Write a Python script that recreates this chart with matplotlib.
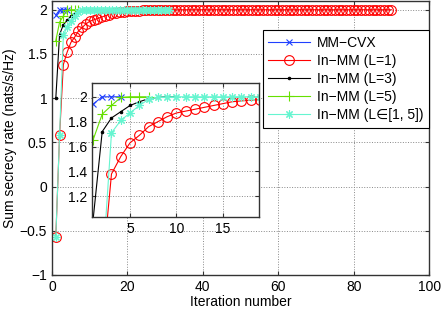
import matplotlib.pyplot as plt
import numpy as np

plt.rcParams['font.family'] = ['Liberation Sans', 'DejaVu Sans']
plt.rcParams['font.size'] = 10

# values, one per iteration starting at 1
mm_cvx = [1.94, 2.0, 2.0, 2.0]
inmm_l1 = [-0.57, 0.58, 1.38, 1.52, 1.63, 1.69, 1.76, 1.80, 1.84, 1.87,
           1.885, 1.90, 1.915, 1.93, 1.945, 1.96, 1.967, 1.972, 1.978, 1.982,
           1.985, 1.988, 1.99, 1.992, 1.994, 1.995, 1.996, 1.997, 1.998, 1.998,
           1.999, 1.999, 1.999, 2.0, 2.0, 2.0, 2.0, 2.0, 2.0, 2.0,
           2.0, 2.0, 2.0, 2.0, 2.0, 2.0, 2.0, 2.0, 2.0, 2.0,
           2.0, 2.0, 2.0, 2.0, 2.0, 2.0, 2.0, 2.0, 2.0, 2.0,
           2.0, 2.0, 2.0, 2.0, 2.0, 2.0, 2.0, 2.0, 2.0, 2.0,
           2.0, 2.0, 2.0, 2.0, 2.0, 2.0, 2.0, 2.0, 2.0, 2.0,
           2.0, 2.0, 2.0, 2.0, 2.0, 2.0, 2.0, 2.0, 2.0, 2.0]
inmm_l3 = [1.0, 1.72, 1.83, 1.88, 1.93, 1.96, 1.985, 1.995, 2.0, 2.0]
inmm_l5 = [1.65, 1.86, 1.93, 1.995, 2.0, 2.0, 2.0]
inmm_lvar = [-0.57, 0.58, 1.71, 1.81, 1.87, 1.93, 1.98, 1.995, 2.0, 2.0,
             2.0, 2.0, 2.0, 2.0, 2.0, 2.0, 2.0, 2.0, 2.0, 2.0,
             2.0, 2.0, 2.0, 2.0, 2.0, 2.0, 2.0, 2.0, 2.0, 2.0, 2.0]

labels = ["MM−CVX", "In−MM (L=1)", "In−MM (L=3)", "In−MM (L=5)", "In−MM (L∈[1, 5])"]
colors = ["#2040ff", "#ff0000", "#000000", "#66e000", "#66f5d0"]
markers = ["x", "o", ".", "+", (8, 2, 0)]
msizes = [5, 7, 3.5, 7, 6]
mfaces = ["none", "none", "#000000", "none", "none"]

series = [mm_cvx, inmm_l1, inmm_l3, inmm_l5, inmm_lvar]


def draw(ax):
    for ys, lab, c, m, ms, mf in zip(series, labels, colors, markers, msizes, mfaces):
        xs = np.arange(1, len(ys) + 1)
        ax.plot(xs, ys, color=c, marker=m, markersize=ms, markerfacecolor=mf,
                markeredgewidth=0.8, linewidth=0.8, label=lab)


def style(ax):
    ax.grid(True, linestyle=":", color="#888888", linewidth=0.7)
    ax.tick_params(direction="in", top=True, right=True, length=3, color="#333333")
    for s in ax.spines.values():
        s.set_color("#333333")
        s.set_linewidth(1.0)


fig = plt.figure(figsize=(4.41, 3.10), dpi=100)
ax = fig.add_axes([0.118, 0.113, 0.855, 0.884])
draw(ax)
style(ax)
ax.set_xlim(0, 100)
ax.set_ylim(-1, 2.1)
ax.set_xticks([0, 20, 40, 60, 80, 100])
ax.set_yticks([-1, -0.5, 0, 0.5, 1, 1.5, 2])
ax.set_yticklabels(["−1", "−0.5", "0", "0.5", "1", "1.5", "2"])
ax.set_xlabel("Iteration number", labelpad=1)
ax.set_ylabel("Sum secrecy rate (nats/s/Hz)", labelpad=2)
leg = ax.legend(loc="upper right", bbox_to_anchor=(1.0, 0.894), borderaxespad=0,
                fancybox=False, edgecolor="black", framealpha=1,
                handlelength=3.0, handletextpad=0.5, labelspacing=0.3,
                borderpad=0.4)
leg.get_frame().set_linewidth(0.8)

ins = fig.add_axes([0.2086, 0.3, 0.379, 0.432])
draw(ins)
style(ins)
ins.set_xlim(0.9, 18.9)
ins.set_ylim(1.034, 2.11)
ins.set_xticks([5, 10, 15])
ins.set_yticks([1.2, 1.4, 1.6, 1.8, 2.0])
ins.set_yticklabels(["1.2", "1.4", "1.6", "1.8", "2"])

fig.savefig("out.png", dpi=100)
